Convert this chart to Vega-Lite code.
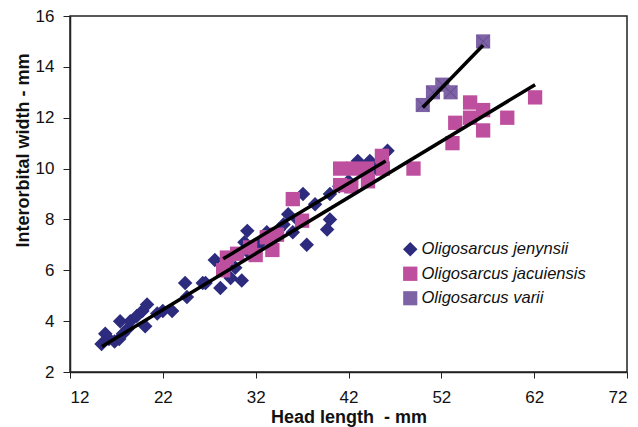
{
  "$schema": "https://vega.github.io/schema/vega-lite/v6.json",
  "width": 557,
  "height": 356,
  "autosize": {"type": "none"},
  "padding": {"left": 70, "top": 16, "right": 11, "bottom": 55},
  "background": "white",
  "config": {
    "view": {"stroke": "#222222", "strokeWidth": 1.5},
    "font": "Liberation Sans",
    "axis": {
      "grid": false,
      "domainColor": "#222222",
      "domainWidth": 1.5,
      "tickColor": "#222222",
      "labelFont": "Liberation Sans",
      "labelFontSize": 17,
      "labelColor": "#111111",
      "titleFont": "Liberation Sans",
      "titleFontSize": 18,
      "titleFontWeight": "bold",
      "titleColor": "#111111"
    }
  },
  "datasets": {
    "pts": [
      {"x": 15.4, "y": 3.1, "species": "Oligosarcus jenynsii"},
      {"x": 15.8, "y": 3.5, "species": "Oligosarcus jenynsii"},
      {"x": 16.2, "y": 3.3, "species": "Oligosarcus jenynsii"},
      {"x": 16.8, "y": 3.2, "species": "Oligosarcus jenynsii"},
      {"x": 17.3, "y": 3.3, "species": "Oligosarcus jenynsii"},
      {"x": 17.7, "y": 3.5, "species": "Oligosarcus jenynsii"},
      {"x": 17.4, "y": 4.0, "species": "Oligosarcus jenynsii"},
      {"x": 18.2, "y": 3.7, "species": "Oligosarcus jenynsii"},
      {"x": 18.5, "y": 4.0, "species": "Oligosarcus jenynsii"},
      {"x": 19.2, "y": 4.2, "species": "Oligosarcus jenynsii"},
      {"x": 19.8, "y": 4.4, "species": "Oligosarcus jenynsii"},
      {"x": 20.3, "y": 4.65, "species": "Oligosarcus jenynsii"},
      {"x": 20.1, "y": 3.8, "species": "Oligosarcus jenynsii"},
      {"x": 21.4, "y": 4.3, "species": "Oligosarcus jenynsii"},
      {"x": 22.0, "y": 4.4, "species": "Oligosarcus jenynsii"},
      {"x": 23.0, "y": 4.4, "species": "Oligosarcus jenynsii"},
      {"x": 24.4, "y": 5.5, "species": "Oligosarcus jenynsii"},
      {"x": 24.6, "y": 4.95, "species": "Oligosarcus jenynsii"},
      {"x": 26.3, "y": 5.5, "species": "Oligosarcus jenynsii"},
      {"x": 26.6, "y": 5.5, "species": "Oligosarcus jenynsii"},
      {"x": 27.6, "y": 6.4, "species": "Oligosarcus jenynsii"},
      {"x": 28.2, "y": 5.3, "species": "Oligosarcus jenynsii"},
      {"x": 29.3, "y": 5.7, "species": "Oligosarcus jenynsii"},
      {"x": 29.8, "y": 6.1, "species": "Oligosarcus jenynsii"},
      {"x": 30.5, "y": 5.6, "species": "Oligosarcus jenynsii"},
      {"x": 30.8, "y": 7.1, "species": "Oligosarcus jenynsii"},
      {"x": 31.1, "y": 7.55, "species": "Oligosarcus jenynsii"},
      {"x": 31.5, "y": 6.6, "species": "Oligosarcus jenynsii"},
      {"x": 32.3, "y": 7.0, "species": "Oligosarcus jenynsii"},
      {"x": 33.2, "y": 7.5, "species": "Oligosarcus jenynsii"},
      {"x": 33.8, "y": 7.4, "species": "Oligosarcus jenynsii"},
      {"x": 34.5, "y": 7.6, "species": "Oligosarcus jenynsii"},
      {"x": 35.0, "y": 7.8, "species": "Oligosarcus jenynsii"},
      {"x": 35.5, "y": 8.2, "species": "Oligosarcus jenynsii"},
      {"x": 36.0, "y": 7.5, "species": "Oligosarcus jenynsii"},
      {"x": 36.5, "y": 8.0, "species": "Oligosarcus jenynsii"},
      {"x": 37.1, "y": 9.0, "species": "Oligosarcus jenynsii"},
      {"x": 37.5, "y": 7.0, "species": "Oligosarcus jenynsii"},
      {"x": 38.4, "y": 8.6, "species": "Oligosarcus jenynsii"},
      {"x": 39.7, "y": 7.6, "species": "Oligosarcus jenynsii"},
      {"x": 40.0, "y": 8.0, "species": "Oligosarcus jenynsii"},
      {"x": 40.0, "y": 9.0, "species": "Oligosarcus jenynsii"},
      {"x": 41.0, "y": 9.3, "species": "Oligosarcus jenynsii"},
      {"x": 42.0, "y": 9.5, "species": "Oligosarcus jenynsii"},
      {"x": 43.0, "y": 10.3, "species": "Oligosarcus jenynsii"},
      {"x": 44.3, "y": 10.3, "species": "Oligosarcus jenynsii"},
      {"x": 45.0, "y": 10.0, "species": "Oligosarcus jenynsii"},
      {"x": 46.2, "y": 10.7, "species": "Oligosarcus jenynsii"},
      {"x": 28.5, "y": 6.0, "species": "Oligosarcus jacuiensis"},
      {"x": 28.9, "y": 6.5, "species": "Oligosarcus jacuiensis"},
      {"x": 30.0, "y": 6.65, "species": "Oligosarcus jacuiensis"},
      {"x": 31.4, "y": 6.9, "species": "Oligosarcus jacuiensis"},
      {"x": 32.0, "y": 6.6, "species": "Oligosarcus jacuiensis"},
      {"x": 33.2, "y": 7.3, "species": "Oligosarcus jacuiensis"},
      {"x": 33.8, "y": 6.8, "species": "Oligosarcus jacuiensis"},
      {"x": 34.3, "y": 7.4, "species": "Oligosarcus jacuiensis"},
      {"x": 36.0, "y": 8.8, "species": "Oligosarcus jacuiensis"},
      {"x": 37.0, "y": 7.95, "species": "Oligosarcus jacuiensis"},
      {"x": 41.1, "y": 10.0, "species": "Oligosarcus jacuiensis"},
      {"x": 42.5, "y": 10.0, "species": "Oligosarcus jacuiensis"},
      {"x": 44.0, "y": 10.0, "species": "Oligosarcus jacuiensis"},
      {"x": 45.7, "y": 10.0, "species": "Oligosarcus jacuiensis"},
      {"x": 45.6, "y": 10.5, "species": "Oligosarcus jacuiensis"},
      {"x": 41.1, "y": 9.35, "species": "Oligosarcus jacuiensis"},
      {"x": 42.3, "y": 9.3, "species": "Oligosarcus jacuiensis"},
      {"x": 44.1, "y": 9.5, "species": "Oligosarcus jacuiensis"},
      {"x": 49.0, "y": 10.0, "species": "Oligosarcus jacuiensis"},
      {"x": 53.2, "y": 11.0, "species": "Oligosarcus jacuiensis"},
      {"x": 53.5, "y": 11.8, "species": "Oligosarcus jacuiensis"},
      {"x": 55.1, "y": 12.0, "species": "Oligosarcus jacuiensis"},
      {"x": 55.1, "y": 12.6, "species": "Oligosarcus jacuiensis"},
      {"x": 56.5, "y": 12.3, "species": "Oligosarcus jacuiensis"},
      {"x": 56.5, "y": 11.5, "species": "Oligosarcus jacuiensis"},
      {"x": 59.1, "y": 12.0, "species": "Oligosarcus jacuiensis"},
      {"x": 62.1, "y": 12.8, "species": "Oligosarcus jacuiensis"},
      {"x": 50.0, "y": 12.5, "species": "Oligosarcus varii"},
      {"x": 51.1, "y": 13.0, "species": "Oligosarcus varii"},
      {"x": 52.1, "y": 13.3, "species": "Oligosarcus varii"},
      {"x": 53.0, "y": 13.0, "species": "Oligosarcus varii"},
      {"x": 56.5, "y": 15.0, "species": "Oligosarcus varii"}
    ],
    "lines": [
      {"line": "all", "x": 15.45, "y": 3.0},
      {"line": "all", "x": 62.1, "y": 13.3},
      {"line": "mid", "x": 28.5, "y": 6.45},
      {"line": "mid", "x": 46.0, "y": 10.3},
      {"line": "varii", "x": 50.0, "y": 12.4},
      {"line": "varii", "x": 56.5, "y": 14.85}
    ]
  },
  "layer": [
    {
      "data": {"name": "pts"},
      "mark": {"type": "point", "filled": true, "opacity": 1, "strokeWidth": 0},
      "encoding": {
        "x": {
          "field": "x", "type": "quantitative",
          "scale": {"domain": [12, 72], "nice": false, "zero": false},
          "axis": {"values": [12, 22, 32, 42, 52, 62, 72], "title": "Head length\u00a0 - mm", "tickSize": 6, "labelPadding": 11, "titleBaseline": "alphabetic", "titleY": 50}
        },
        "y": {
          "field": "y", "type": "quantitative",
          "scale": {"domain": [2, 16], "nice": false, "zero": false},
          "axis": {"values": [2, 4, 6, 8, 10, 12, 14, 16], "title": "Interorbital width - mm", "tickSize": 7, "labelPadding": 9, "titleBaseline": "alphabetic", "titleX": -42, "titleY": 134}
        },
        "shape": {
          "field": "species", "type": "nominal",
          "scale": {"domain": ["Oligosarcus jenynsii", "Oligosarcus jacuiensis", "Oligosarcus varii"], "range": ["diamond", "square", "square"]},
          "legend": null
        },
        "color": {
          "field": "species", "type": "nominal",
          "scale": {"domain": ["Oligosarcus jenynsii", "Oligosarcus jacuiensis", "Oligosarcus varii"], "range": ["#2C2B7E", "#BE4F9F", "#7D62A6"]},
          "legend": {
            "title": null,
            "orient": "none",
            "legendX": 332,
            "legendY": 225,
            "symbolSize": 144,
            "symbolStrokeWidth": 0,
            "labelFont": "Liberation Sans",
            "labelFontSize": 16.5,
            "labelFontStyle": "italic",
            "labelColor": "#111111",
            "labelOffset": 3,
            "rowPadding": 7.5,
            "labelLimit": 300
          }
        },
        "size": {
          "field": "species", "type": "nominal",
          "scale": {"domain": ["Oligosarcus jenynsii", "Oligosarcus jacuiensis", "Oligosarcus varii"], "range": [210, 200, 185]},
          "legend": null
        }
      }
    },
    {
      "data": {"name": "pts"},
      "transform": [{"filter": "datum.species === 'Oligosarcus varii'"}],
      "mark": {"type": "point", "shape": "M -0.9 -0.9 L 0.9 0.9 M -0.9 0.9 L 0.9 -0.9", "filled": false, "stroke": "#5E4787", "strokeWidth": 1, "size": 185, "opacity": 0.8},
      "encoding": {
        "x": {"field": "x", "type": "quantitative"},
        "y": {"field": "y", "type": "quantitative"}
      }
    },
    {
      "data": {"name": "lines"},
      "mark": {"type": "line", "color": "black", "strokeWidth": 3.5},
      "encoding": {
        "x": {"field": "x", "type": "quantitative"},
        "y": {"field": "y", "type": "quantitative"},
        "detail": {"field": "line", "type": "nominal"}
      }
    }
  ]
}
